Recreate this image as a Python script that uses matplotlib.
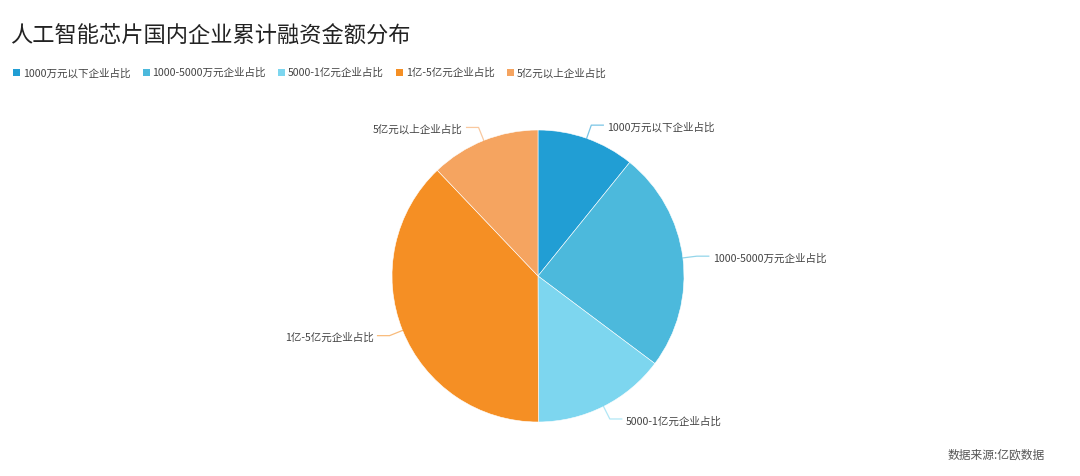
import numpy as np
import matplotlib
matplotlib.use('Agg')
import matplotlib.pyplot as plt
from matplotlib.patches import Rectangle

plt.rcParams['font.family'] = ['Noto Sans CJK SC', 'DejaVu Sans']

# Data (shares, %)
categories = ['1000万元以下企业占比', '1000-5000万元企业占比', '5000-1亿元企业占比',
              '1亿-5亿元企业占比', '5亿元以上企业占比']
shares = [10.8, 24.4, 14.7, 37.9, 12.1]
colors = ['#219ed4', '#4cb9dc', '#7dd6ef', '#f58f24', '#f5a460']

W, H = 1080, 477
fig = plt.figure(figsize=(W / 100, H / 100), dpi=100)
ax = fig.add_axes([0, 0, 1, 1])

cx, cy, r = 538, H - 277, 146
wedges, _ = ax.pie(shares, colors=colors, startangle=90, counterclock=False,
                   center=(cx, cy), radius=r, frame=True,
                   wedgeprops=dict(linewidth=0.4, edgecolor='white'))
ax.set_xlim(0, W)
ax.set_ylim(0, H)
ax.set_aspect('equal')
ax.axis('off')

# Labels with elbow lines
for w, lab, c in zip(wedges, categories, colors):
    ang = np.deg2rad((w.theta1 + w.theta2) / 2)
    x0, y0 = cx + r * np.cos(ang), cy + r * np.sin(ang)
    x1, y1 = cx + (r + 14) * np.cos(ang), cy + (r + 14) * np.sin(ang)
    side = 1 if np.cos(ang) >= 0 else -1
    x2 = x1 + side * 12
    ax.plot([x0, x1, x2], [y0, y1, y1], color=c, lw=0.9, alpha=0.6)
    ax.text(x2 + side * 4, y1 - 1.5, lab, fontsize=7.6, color='#444444',
            ha='left' if side > 0 else 'right', va='center')

# Title
fig.text(10 / W, 1 - 36 / H, '人工智能芯片国内企业累计融资金额分布', fontsize=16,
         color='#222222', ha='left', va='center')

# Legend row
fig.canvas.draw()
renderer = fig.canvas.get_renderer()
x = 13
ly = H - 73
for lab, c in zip(categories, colors):
    ax.add_patch(Rectangle((x, ly - 3.5), 7, 7, color=c, lw=0))
    t = ax.text(x + 10, ly, lab, fontsize=7.6, color='#444444', ha='left', va='center')
    bb = t.get_window_extent(renderer)
    x = x + 10 + bb.width + 12

# Source note
fig.text(1045 / W, 1 - 455 / H, '数据来源:亿欧数据', fontsize=8.5, color='#555555',
         ha='right', va='center')

fig.savefig('out.png', dpi=100, facecolor='white')
